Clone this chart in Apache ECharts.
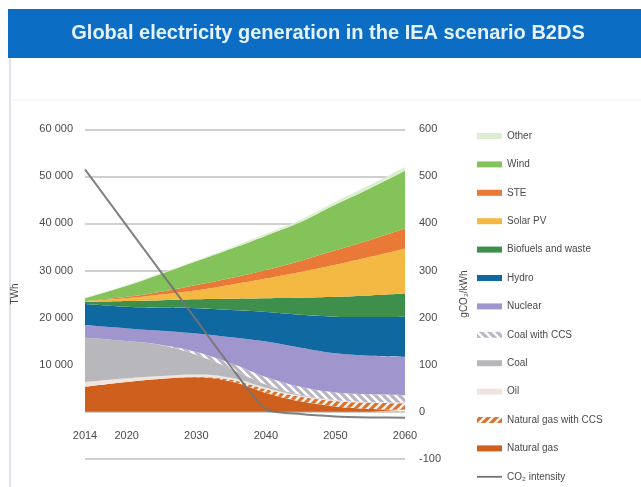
<!DOCTYPE html>
<html>
<head>
<meta charset="utf-8">
<script src="https://cdn.jsdelivr.net/npm/echarts@6/dist/echarts.min.js"></script>
<style>
html,body{margin:0;padding:0;background:#fff;}
#chart{width:641px;height:487px;}
</style>
</head>
<body>
<div id="chart"></div>
<script>
// ---- data (TWh) ----
const years = [2014, 2020, 2025, 2030, 2035, 2040, 2045, 2050, 2055, 2060];
const naturalGas    = [5300, 6300, 7000, 7300, 6400, 4000, 2200, 1100, 600, 400];
const naturalGasCCS = [0, 0, 0, 100, 400, 800, 1000, 1200, 1300, 1400];
const oil           = [1000, 800, 600, 500, 400, 300, 200, 150, 100, 100];
const coal          = [9400, 7900, 6500, 4200, 1900, 700, 200, 50, 50, 50];
const coalCCS       = [0, 0, 100, 600, 1200, 1600, 1700, 1600, 1650, 1550];
const nuclear       = [2700, 2700, 3000, 3900, 5500, 7500, 8300, 8300, 8200, 8200];
const hydro         = [4500, 4600, 4900, 5400, 5800, 6300, 7000, 7800, 8200, 8500];
const biofuels      = [400, 1200, 1600, 1900, 2400, 2900, 3600, 4200, 4600, 4900];
const solarPV       = [200, 600, 1200, 1900, 3000, 4200, 5500, 6800, 8200, 9600];
const ste           = [0, 300, 600, 1100, 1400, 1800, 2400, 3100, 3600, 4200];
const wind          = [600, 2350, 3800, 5050, 6200, 7300, 8200, 9700, 11000, 12300];
const other         = [100, 150, 200, 250, 300, 400, 500, 600, 700, 800];
// gCO2/kWh
const co2Intensity  = [515, 395, 295, 195, 95, 5, -5, -10, -12, -13];
const xTickLabels = [2014, 2020, 2030, 2040, 2050, 2060];

function hatch(bg, fg, dir) {
  const s = 8;
  const c = document.createElement('canvas');
  c.width = s; c.height = s;
  const g = c.getContext('2d');
  g.fillStyle = bg; g.fillRect(0, 0, s, s);
  g.strokeStyle = fg; g.lineWidth = 2.6;
  g.beginPath();
  if (dir === '/') {
    g.moveTo(-1, s + 1); g.lineTo(s + 1, -1);
    g.moveTo(-s - 1, s + 1); g.lineTo(1, -1);
    g.moveTo(s - 1, s + 1); g.lineTo(2 * s + 1, -1);
  } else {
    g.moveTo(-1, -1); g.lineTo(s + 1, s + 1);
    g.moveTo(-s - 1, -1); g.lineTo(1, s + 1);
    g.moveTo(s - 1, -1); g.lineTo(2 * s + 1, s + 1);
  }
  g.stroke();
  return c;
}

const ngCcsPattern = { image: hatch('#d9722e', '#fbeee4', '/'), repeat: 'repeat' };
const coalCcsPattern = { image: hatch('#b9b4c4', '#ffffff', '\\'), repeat: 'repeat' };

const stackDefs = [
  ['Natural gas', naturalGas, '#cf5f1c'],
  ['Natural gas with CCS', naturalGasCCS, ngCcsPattern],
  ['Oil', oil, '#f0e4de'],
  ['Coal', coal, '#b8b8bc'],
  ['Coal with CCS', coalCCS, coalCcsPattern],
  ['Nuclear', nuclear, '#a095cc'],
  ['Hydro', hydro, '#0f68a0'],
  ['Biofuels and waste', biofuels, '#3e8e4c'],
  ['Solar PV', solarPV, '#f4b943'],
  ['STE', ste, '#ea7836'],
  ['Wind', wind, '#84c35a'],
  ['Other', other, '#dcedd2']
];

// value first so that ECharts stacks on the value dimension; x read from dim 1
const series = stackDefs.map(([name, vals, color]) => ({
  name: name,
  type: 'line',
  stack: 'gen',
  yAxisIndex: 0,
  smooth: 0.4,
  symbol: 'none',
  encode: { x: 1, y: 0 },
  lineStyle: { width: 0, color: color },
  itemStyle: { color: color },
  areaStyle: { color: color, opacity: 1 },
  emphasis: { disabled: true },
  data: years.map((y, i) => [vals[i], y])
}));

series.push({
  name: 'CO\u2082 intensity',
  type: 'line',
  yAxisIndex: 1,
  smooth: 0.2,
  symbol: 'none',
  z: 5,
  lineStyle: { width: 2, color: '#737373', opacity: 0.9 },
  itemStyle: { color: '#737373' },
  emphasis: { disabled: true },
  data: years.map((y, i) => [y, co2Intensity[i]])
});

const legendOrder = ['Other', 'Wind', 'STE', 'Solar PV', 'Biofuels and waste', 'Hydro',
  'Nuclear', 'Coal with CCS', 'Coal', 'Oil', 'Natural gas with CCS', 'Natural gas'];

const chart = echarts.init(document.getElementById('chart'), null, { renderer: 'canvas' });
chart.setOption({
  animation: false,
  backgroundColor: '#ffffff',
  textStyle: { fontFamily: 'Liberation Sans, Arial, sans-serif' },
  graphic: [
    { type: 'rect', shape: { x: 8, y: 9, width: 633, height: 49 }, style: { fill: '#0b6ec4' }, z: 0 },
    { type: 'text', x: 328, y: 33, style: { text: 'Global electricity generation in the IEA scenario B2DS', fill: '#e6f3ff', font: 'bold 20px "Liberation Sans", Arial, sans-serif', align: 'center', verticalAlign: 'middle' }, z: 1 },
    { type: 'line', shape: { x1: 10, y1: 58, x2: 10, y2: 487 }, style: { stroke: '#dfe1ea', lineWidth: 2 } },
    { type: 'line', shape: { x1: 10, y1: 100, x2: 641, y2: 100 }, style: { stroke: '#eeeeee', lineWidth: 1 } }
  ],
  grid: { left: 85, right: 236, top: 129.3, bottom: 28.2, containLabel: false },
  legend: {
    orient: 'vertical',
    left: 472,
    top: 126,
    itemWidth: 25,
    itemHeight: 6,
    itemGap: 18.4,
    selectedMode: false,
    textStyle: { fontSize: 10, color: '#4a4a4a' },
    data: legendOrder.map(n => ({ name: n, icon: 'rect' }))
      .concat([{ name: 'CO\u2082 intensity', icon: 'path://M0,0H25V1.8H0Z' }])
  },
  xAxis: {
    type: 'value',
    min: 2014,
    max: 2060,
    interval: 2,
    offset: -47.1,
    axisLine: { show: false, onZero: false },
    axisTick: { show: false },
    splitLine: { show: false },
    axisLabel: {
      fontSize: 11,
      color: '#4a4a4a',
      margin: 19,
      formatter: v => (xTickLabels.indexOf(v) >= 0 ? String(v) : '')
    }
  },
  yAxis: [
    {
      type: 'value',
      min: -10000,
      max: 60000,
      interval: 10000,
      name: 'TWh',
      nameLocation: 'middle',
      nameRotate: 90,
      nameGap: 65,
      nameTextStyle: { fontSize: 10, color: '#4a4a4a' },
      axisLine: { show: false },
      axisTick: { show: false },
      splitLine: { show: true, lineStyle: { color: '#cfcfcf', width: 2 } },
      axisLabel: {
        fontSize: 11,
        color: '#4a4a4a',
        margin: 12,
        formatter: v => (v <= 0 ? '' : String(v).replace(/(\d)(?=(\d{3})+$)/g, '$1 '))
      }
    },
    {
      type: 'value',
      min: -100,
      max: 600,
      interval: 100,
      position: 'right',
      name: 'gCO\u2082/kWh',
      nameLocation: 'middle',
      nameRotate: 90,
      nameGap: 54,
      nameTextStyle: { fontSize: 10, color: '#4a4a4a' },
      axisLine: { show: false },
      axisTick: { show: false },
      splitLine: { show: false },
      axisLabel: { fontSize: 11, color: '#4a4a4a', margin: 14 }
    }
  ],
  series: series
});
</script>
</body>
</html>
